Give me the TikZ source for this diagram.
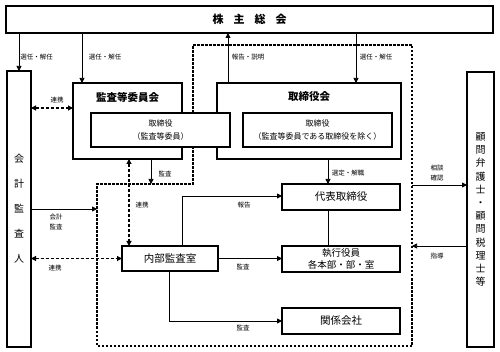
\documentclass[tikz,border=0pt]{standalone}
\usepackage{fontspec}
\newfontfamily\jp{Noto Sans CJK JP}
\usetikzlibrary{arrows.meta}
\begin{document}
\begin{tikzpicture}[x=1pt,y=-1pt, font=\jp,
  thickbox/.style={draw, line width=2.4pt, fill=white, inner sep=0pt, outer sep=0pt},
  thinbox/.style={draw, line width=1.3pt, fill=white, inner sep=0pt, outer sep=0pt},
  arr/.style={line width=0.75pt, -{Triangle[length=5pt,width=5pt]}},
  plain/.style={line width=0.75pt},
  darr/.style={line width=1.1pt, dash pattern=on 3pt off 2pt, {Triangle[length=5pt,width=5pt]}-{Triangle[length=5pt,width=5pt]}},
  frame/.style={line width=1.1pt, dash pattern=on 2.5pt off 1.5pt},
  lbl/.style={font=\jp\fontsize{6.5}{10}\selectfont, inner sep=0pt, align=center},
  big/.style={font=\jp\fontsize{10.5}{12}\selectfont},
  small/.style={font=\jp\fontsize{8}{13}\selectfont, align=center},
]
\useasboundingbox (0,0) rectangle (500,352);
\fill[white] (0,0) rectangle (500,352);

% dashed frame
\coordinate (f1) at (193,45);
\coordinate (f2) at (412,45);
\coordinate (f3) at (412,346);
\coordinate (f4) at (97,346);
\coordinate (f5) at (97,184);
\coordinate (f6) at (193,184);
\draw[frame] (f1) -- (f2) -- (f3) -- (f4) -- (f5) -- (f6) -- cycle;

% boxes
\node[thickbox, minimum width=487pt, minimum height=27pt,
  font=\jp\bfseries\fontsize{11}{12}\selectfont] (soukai) at (249.5,19.5)
  {株\hspace{10pt}主\hspace{10pt}総\hspace{10pt}会};
\node[thickbox, minimum width=24pt, minimum height=276pt, align=center,
  font=\jp\fontsize{10}{25}\selectfont] (kaikei) at (19,209)
  {会\\計\\監\\査\\人};
\node[thickbox, minimum width=27pt, minimum height=275pt, align=center,
  font=\jp\fontsize{10}{13.2}\selectfont] (komon) at (480.5,209.5)
  {顧\\問\\弁\\護\\士\\・\\顧\\問\\税\\理\\士\\等};
\node[thickbox, minimum width=109pt, minimum height=76pt,
  label={[anchor=center, yshift=-14pt, font=\jp\bfseries\fontsize{10.5}{12}\selectfont]north:監査等委員会}]
  (iinkai) at (127.5,121) {};
\node[thickbox, minimum width=184pt, minimum height=76pt,
  label={[anchor=center, yshift=-14pt, font=\jp\bfseries\fontsize{10.5}{12}\selectfont]north:取締役会}]
  (torikai) at (309,121) {};
\node[thinbox, small, minimum width=139pt, minimum height=34pt] (in1) at (160.5,130)
  {取締役\\（監査等委員）};
\node[thinbox, small, minimum width=149pt, minimum height=34pt] (in2) at (317.5,130)
  {取締役\\（監査等委員である取締役を除く）};
\node[thickbox, big, minimum width=118pt, minimum height=26pt] (daihyo) at (341,197) {代表取締役};
\node[thickbox, big, minimum width=96pt, minimum height=25pt] (naibu) at (170,258.5) {内部監査室};
\node[thickbox, minimum width=118pt, minimum height=26pt, align=center,
  font=\jp\fontsize{9.5}{12}\selectfont] (shikko) at (341,259) {執行役員\\各本部・部・室};
\node[thickbox, big, minimum width=118pt, minimum height=26pt] (kankei) at (341,321) {関係会社};

% column / row helpers
\coordinate (c82) at (82,0);
\coordinate (c228) at (228,0);
\coordinate (c356) at (356,0);
\coordinate (r108) at (0,108);
\coordinate (c129) at (129,0);
\coordinate (fb) at (151,184);
\coordinate (fa) at (97,209);
\coordinate (hb) at (182,196);
\coordinate (c328) at (328,0);
\coordinate (c169) at (169,0);
\coordinate (fc) at (412,185);
\coordinate (fd) at (412,246);

% connectors from the general meeting
\draw[arr] (soukai.south -| kaikei.north) -- (kaikei.north);
\draw[arr] (soukai.south -| c82) -- (iinkai.north -| c82);
\draw[arr] (torikai.north -| c228) -- (soukai.south -| c228);
\draw[arr] (soukai.south -| c356) -- (torikai.north -| c356);
\node[lbl] (l1) at (36.5,57) {選任・解任};
\node[lbl] (l2) at (105,57) {選任・解任};
\node[lbl] (l3) at (248,57) {報告・説明};
\node[lbl] (l4) at (376,57) {選任・解任};

% liaison arrows
\draw[darr] (kaikei.east |- r108) -- (iinkai.west |- r108);
\node[lbl] (l5) at (57,100) {連携};
\draw[darr] (kaikei.east |- naibu.west) -- (naibu.west);
\node[lbl] (l6) at (55,268) {連携};
\draw[darr] (iinkai.south -| c129) -- (naibu.north -| c129);
\node[lbl] (l7) at (142,205) {連携};

% audits
\draw[arr] (kaikei.east |- fa) -- (fa);
\node[lbl] (l8) at (56,222) {会計\\監査};
\draw[arr] (iinkai.south -| fb) -- (fb);
\node[lbl] (l9) at (165,174) {監査};
\draw[arr] (naibu.north -| hb) -- (hb) -- (daihyo.west |- hb);
\node[lbl] (l10) at (244,205) {報告};
\draw[arr] (torikai.south -| c328) -- (daihyo.north -| c328);
\node[lbl] (l11) at (348,173) {選定・解職};
\draw[plain] (daihyo.south -| c328) -- (shikko.north -| c328);
\draw[arr] (naibu.east) -- (shikko.west |- naibu.east);
\node[lbl] (l12) at (243,267) {監査};
\draw[arr] (naibu.south -| c169) |- (kankei.west);
\node[lbl] (l13) at (243,328) {監査};

% advisers
\draw[arr] (fc) -- (komon.west |- fc);
\node[lbl] (l14) at (437,173) {相談\\確認};
\draw[arr] (komon.west |- fd) -- (fd);
\node[lbl] (l15) at (437,256) {指導};
\end{tikzpicture}
\end{document}
